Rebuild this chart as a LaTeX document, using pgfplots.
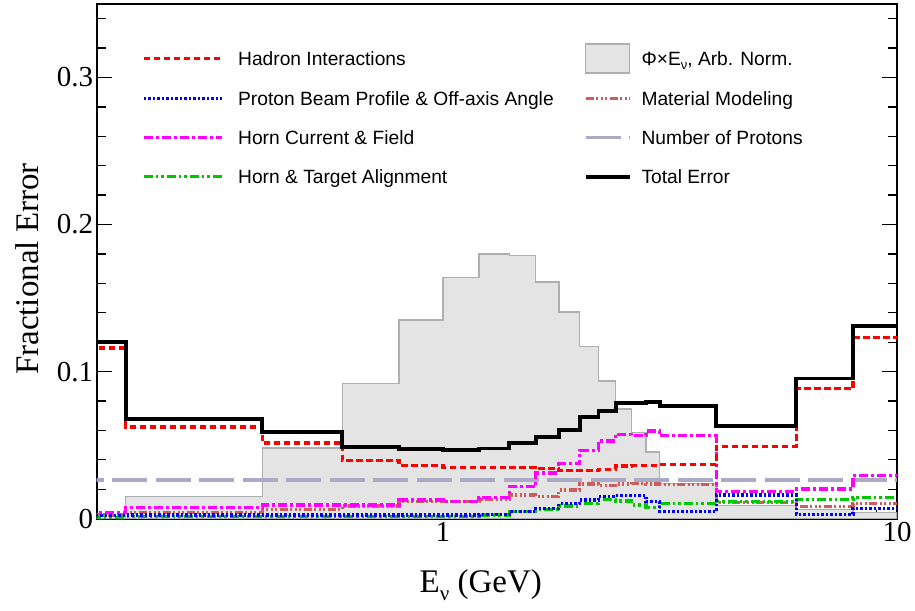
\documentclass[border=0pt]{standalone}
\usepackage{pgfplots}
\usepackage{pgfplotstable}
\pgfplotsset{compat=1.18}
\usepackage{fontspec}
\setmainfont{Liberation Serif}
\setsansfont{Liberation Sans}

\definecolor{fluxfill}{RGB}{228,228,228}
\definecolor{fluxline}{RGB}{175,175,175}
\definecolor{hadred}{RGB}{255,0,0}
\definecolor{beamblue}{RGB}{0,0,255}
\definecolor{hornmag}{RGB}{255,0,255}
\definecolor{aligngreen}{RGB}{0,200,0}
\definecolor{matred}{RGB}{205,92,92}
\definecolor{potgray}{RGB}{170,170,196}

% Bin low edges (GeV) and per-bin fractional errors; last row closes the final bin
\pgfplotstableread{
x     gray    total   had     beam    horn    align   mat
0.15  0       0.1200  0.1160  0.0020  0.0043  0.0010  0.0025
0.2   0.0150  0.0680  0.0623  0.0025  0.0077  0.0012  0.0040
0.4   0.0480  0.0587  0.0514  0.0025  0.0093  0.0012  0.0060
0.6   0.0920  0.0487  0.0395  0.0025  0.0093  0.0013  0.0086
0.8   0.1350  0.0473  0.0359  0.0025  0.0127  0.0013  0.0115
1.0   0.1640  0.0464  0.0350  0.0025  0.0115  0.0013  0.0115
1.2   0.1800  0.0477  0.0350  0.0028  0.0145  0.0025  0.0132
1.4   0.1790  0.0514  0.0347  0.0047  0.0218  0.0047  0.0161
1.6   0.1610  0.0555  0.0340  0.0070  0.0310  0.0063  0.0150
1.8   0.1405  0.0600  0.0325  0.0104  0.0373  0.0086  0.0195
2.0   0.1170  0.0690  0.0325  0.0127  0.0464  0.0104  0.0236
2.2   0.0935  0.0734  0.0336  0.0150  0.0528  0.0130  0.0225
2.4   0.0746  0.0785  0.0358  0.0157  0.0574  0.0120  0.0236
2.6   0.0586  0.0785  0.0361  0.0157  0.0564  0.0093  0.0240
2.8   0.0453  0.0795  0.0361  0.0115  0.0596  0.0077  0.0236
3.0   0.0240  0.0765  0.0368  0.0050  0.0564  0.0104  0.0230
4.0   0.0090  0.0632  0.0490  0.0160  0.0186  0.0115  0.0112
6.0   0.0060  0.0953  0.0883  0.0030  0.0201  0.0132  0.0084
8.0   0.0040  0.1310  0.1230  0.0070  0.0293  0.0143  0.0102
10.0  0.0040  0.1310  0.1230  0.0070  0.0293  0.0143  0.0102
}\fluxerr

\pgfplotsset{
  leftimg/.style={legend image code/.code={%
      \draw[##1] (0bp,0bp) -- (78bp,0bp); \path (93bp,0bp);}},
  rightimg/.style={legend image code/.code={%
      \path (-30bp,0bp); \draw[##1] (0bp,0bp) -- (44bp,0bp); \path (54bp,0bp);}},
  rightbox/.style={legend image code/.code={%
      \path (-30bp,0bp); \draw[##1] (0bp,-14.5bp) rectangle (44bp,14.5bp); \path (54bp,0bp);}},
  hadsty/.style={hadred, line width=3.2bp, dash pattern=on 6.5bp off 3.5bp},
  beamsty/.style={beamblue, line width=3.2bp, dash pattern=on 2.5bp off 2bp},
  hornsty/.style={hornmag, line width=3.2bp, dash pattern=on 9bp off 3bp on 3bp off 3bp},
  alignsty/.style={aligngreen, line width=3.2bp, dash pattern=on 9bp off 3bp on 2.5bp off 3bp on 2.5bp off 3bp},
  matsty/.style={matred, line width=3.2bp, dash pattern=on 8bp off 2.5bp on 2bp off 2.5bp on 2bp off 2.5bp on 2bp off 2.5bp},
  potsty/.style={potgray, line width=3.2bp, dash pattern=on 35bp off 8.5bp},
  totsty/.style={black, line width=3.8bp},
  fluxsty/.style={draw=fluxline, fill=fluxfill, line width=1.3bp},
}

\begin{document}
\begin{tikzpicture}
\useasboundingbox (-96.7bp,-92.4bp) rectangle (818.3bp,518.6bp);
\begin{axis}[
  at={(0bp,0bp)}, anchor=south west,
  scale only axis, width=800.3bp, height=514.6bp,
  xmode=log, xmin=0.1727, xmax=10, ymin=0, ymax=0.35,
  xtick={1,10}, xticklabels={1,10},
  minor xtick={0.2,0.3,0.4,0.5,0.6,0.7,0.8,0.9,2,3,4,5,6,7,8,9},
  ytick={0,0.1,0.2,0.3}, yticklabels={0,0.1,0.2,0.3},
  minor ytick={0.02,0.04,0.06,0.08,0.12,0.14,0.16,0.18,0.22,0.24,0.26,0.28,0.32,0.34},
  xtick pos=bottom, ytick pos=both, tick align=inside,
  major tick length=15bp, minor tick length=9bp,
  every tick/.style={black, line width=1.3bp},
  axis line style={line width=1.8bp},
  ticklabel style={font=\fontsize{29bp}{34bp}\selectfont},
  /pgf/number format/assume math mode=true,
  xlabel={E\raisebox{-0.25em}{\fontsize{21bp}{21bp}\selectfont ν} (GeV)},
  ylabel={Fractional Error},
  label style={font=\fontsize{33bp}{40bp}\selectfont},
  xlabel style={at={(axis description cs:0.48,-0.13)}, anchor=center},
  ylabel style={at={(axis description cs:-0.087,0.485)}, anchor=center},
  legend columns=2,
  legend cell align=left,
  legend style={at={(axis description cs:0.0566,0.9233)}, anchor=north west,
    draw=none, fill=none, inner sep=0pt, outer sep=0pt,
    row sep=10.2bp, column sep=0pt,
    font=\fontsize{19.2bp}{23bp}\selectfont\sffamily,
    nodes={inner sep=0pt, text height=14bp, text depth=0pt, minimum height=29bp}},
]
% Flux shape histogram (arbitrary normalisation)
\addplot[const plot, fluxsty, forget plot] table[x=x, y=gray]{\fluxerr} \closedcycle;
% Number of protons: flat uncertainty
\addplot[potsty, forget plot] coordinates {(0.15,0.0263) (10,0.0263)};
\addplot[const plot, matsty, forget plot] table[x=x, y=mat]{\fluxerr};
\addplot[const plot, alignsty, forget plot] table[x=x, y=align]{\fluxerr};
\addplot[const plot, beamsty, forget plot] table[x=x, y=beam]{\fluxerr};
\addplot[const plot, hornsty, forget plot] table[x=x, y=horn]{\fluxerr};
\addplot[const plot, hadsty, forget plot] table[x=x, y=had]{\fluxerr};
\addplot[const plot, totsty, forget plot] table[x=x, y=total]{\fluxerr};

% Legend, filled row by row
\addlegendimage{hadsty, leftimg}
\addlegendentry{Hadron Interactions}
\addlegendimage{fluxsty, rightbox}
\addlegendentry{Φ×E\raisebox{-0.2em}{\fontsize{13bp}{13bp}\selectfont ν}, Arb. Norm.}
\addlegendimage{beamsty, leftimg}
\addlegendentry{Proton Beam Profile \& Off-axis Angle}
\addlegendimage{matsty, rightimg}
\addlegendentry{Material Modeling}
\addlegendimage{hornsty, leftimg}
\addlegendentry{Horn Current \& Field}
\addlegendimage{potsty, rightimg}
\addlegendentry{Number of Protons}
\addlegendimage{alignsty, leftimg}
\addlegendentry{Horn \& Target Alignment}
\addlegendimage{totsty, rightimg}
\addlegendentry{Total Error}
\end{axis}
\end{tikzpicture}
\end{document}
